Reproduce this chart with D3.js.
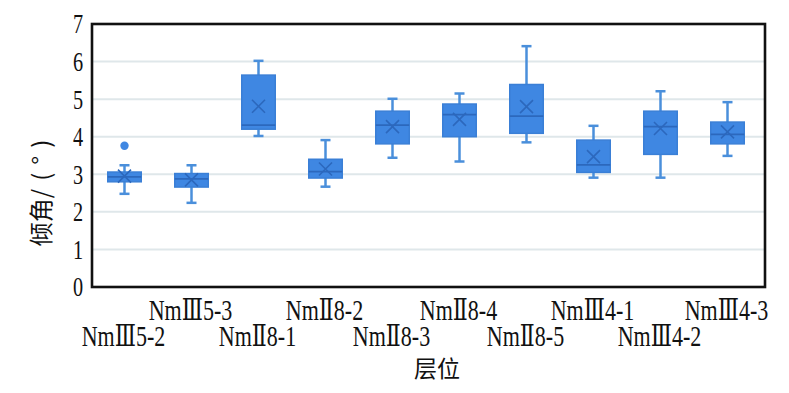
<!DOCTYPE html>
<html><head><meta charset="utf-8">
<script src="https://cdn.jsdelivr.net/npm/d3@7/dist/d3.min.js"></script>
<style>body{margin:0;background:#fff;}svg{display:block;}</style>
</head><body>
<script>
const categories = ["NmⅢ5-2","NmⅢ5-3","NmⅡ8-1","NmⅡ8-2","NmⅡ8-3","NmⅡ8-4","NmⅡ8-5","NmⅢ4-1","NmⅢ4-2","NmⅢ4-3"];
const whiskerLow  = [2.48, 2.24, 4.02, 2.67, 3.44, 3.34, 3.85, 2.91, 2.91, 3.49];
const q1          = [2.80, 2.66, 4.20, 2.90, 3.81, 4.00, 4.09, 3.05, 3.53, 3.81];
const median      = [2.93, 2.88, 4.31, 3.07, 4.31, 4.59, 4.55, 3.25, 4.27, 4.06];
const q3          = [3.06, 3.02, 5.64, 3.40, 4.68, 4.87, 5.39, 3.91, 4.68, 4.39];
const whiskerHigh = [3.24, 3.24, 6.02, 3.91, 5.01, 5.15, 6.41, 4.29, 5.21, 4.92];
const mean        = [2.95, 2.85, 4.81, 3.14, 4.27, 4.46, 4.80, 3.47, 4.22, 4.13];
const outliers    = [[3.76], [], [], [], [], [], [], [], [], []];
const yTicks = [0,1,2,3,4,5,6,7];
const xTitle = "层位";
const yTitleMain = "倾角";
const yTitleUnit = "/(°)";

const W = 789, H = 393;
const svg = d3.select("body").append("svg").attr("width", W).attr("height", H);
const frame = {l:92, t:24, r:765, b:287};
const y = d3.scaleLinear().domain([0,7]).range([287, 24]);
const x = d3.scaleBand().domain(categories).range([91, 761]).padding(0);

const boxFill = "#3f87e2", dark = "#2c68bd", whisk = "#4a8fdb";
const serif = "'Liberation Serif','DejaVu Serif',serif";

// gridlines
svg.append("g").selectAll("line").data(yTicks.filter(t => t > 0 && t < 7)).join("line")
  .attr("x1", frame.l).attr("x2", frame.r)
  .attr("y1", d => y(d)).attr("y2", d => y(d))
  .attr("stroke", "#dfe7ea").attr("stroke-width", 2);

// y axis ticks via d3 axis
const ky = 0.75;
const yAxis = svg.append("g").attr("transform", `translate(${frame.l},0)`)
  .call(d3.axisLeft(y).tickValues(yTicks).tickSize(0).tickPadding(9).tickFormat(d3.format("d")));
yAxis.attr("font-family", null).attr("font-size", null);
yAxis.select(".domain").remove();
yAxis.selectAll("text").style("font-family", serif).style("font-size", "27px").attr("fill", "#111")
  .attr("dy","0.33em").attr("x", -9/ky).attr("transform", `scale(${ky},1)`);

// boxes
const g = svg.append("g");
categories.forEach((c, i) => {
  const cx = x(c) + x.bandwidth()/2;
  const bw = x.bandwidth()*0.5;
  const cw = 10;
  g.append("line").attr("x1", cx).attr("x2", cx).attr("y1", y(whiskerHigh[i])).attr("y2", y(q3[i]))
    .attr("stroke", whisk).attr("stroke-width", 2.5);
  g.append("line").attr("x1", cx).attr("x2", cx).attr("y1", y(q1[i])).attr("y2", y(whiskerLow[i]))
    .attr("stroke", whisk).attr("stroke-width", 2.5);
  [whiskerHigh[i], whiskerLow[i]].forEach(v => {
    g.append("line").attr("x1", cx-cw/2).attr("x2", cx+cw/2).attr("y1", y(v)).attr("y2", y(v))
      .attr("stroke", whisk).attr("stroke-width", 2.5);
  });
  g.append("rect").attr("x", cx-bw/2).attr("y", y(q3[i])).attr("width", bw).attr("height", y(q1[i])-y(q3[i]))
    .attr("fill", boxFill).attr("stroke", "#3a7fd6").attr("stroke-width", 1.5);
  g.append("line").attr("x1", cx-bw/2).attr("x2", cx+bw/2).attr("y1", y(median[i])).attr("y2", y(median[i]))
    .attr("stroke", dark).attr("stroke-width", 1.8);
  const m = y(mean[i]), s = 6.5;
  g.append("path").attr("d", `M${cx-s},${m-s}L${cx+s},${m+s}M${cx-s},${m+s}L${cx+s},${m-s}`)
    .attr("stroke", dark).attr("stroke-width", 1.6).attr("fill", "none");
  outliers[i].forEach(o => {
    g.append("circle").attr("cx", cx).attr("cy", y(o)).attr("r", 4.2).attr("fill", boxFill);
  });
});

// frame
svg.append("rect").attr("x", frame.l).attr("y", frame.t).attr("width", frame.r-frame.l).attr("height", frame.b-frame.t)
  .attr("fill", "none").attr("stroke", "#111").attr("stroke-width", 2.6);

// x labels (staggered two rows)
const kx = 0.76;
svg.append("g").selectAll("text").data(categories).join("text")
  .attr("transform", (d,i) => `translate(${x(d) + x.bandwidth()/2 - 1},${i % 2 === 1 ? 320 : 346}) scale(${kx},1)`)
  .attr("text-anchor", "middle").style("font-family", serif).style("font-size", "29px").attr("fill", "#111")
  .text(d => d);

// titles
svg.append("text").attr("x", 437).attr("y", 377).attr("text-anchor","middle")
  .style("font-family","'Noto Sans CJK SC',sans-serif").style("font-size", "23px").attr("fill","#111").text(xTitle);
const yt = svg.append("text").attr("transform","translate(50,189) rotate(-90)").attr("text-anchor","middle")
  .style("font-family","'Noto Sans CJK SC',sans-serif").style("font-size", "24px").attr("fill","#111");
yt.append("tspan").text(yTitleMain);
yt.append("tspan").style("letter-spacing", "8px").text(yTitleUnit);
</script>
</body></html>
